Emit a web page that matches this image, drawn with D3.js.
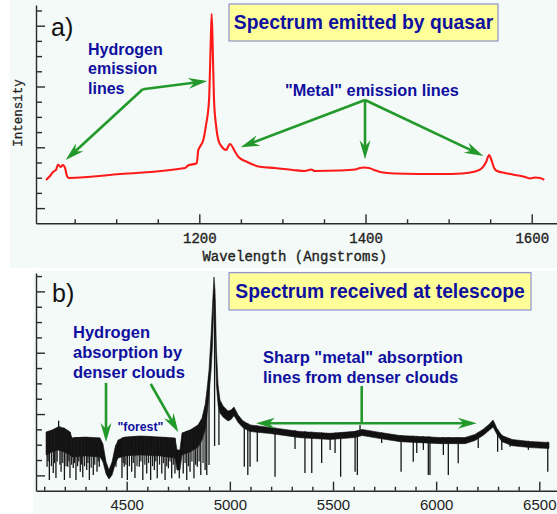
<!DOCTYPE html>
<html>
<head>
<meta charset="utf-8">
<script src="https://cdn.jsdelivr.net/npm/d3@7"></script>
<style>
  html, body { margin: 0; padding: 0; background: #ffffff; }
  svg { display: block; }
</style>
</head>
<body>
<svg id="chart" width="557" height="514"></svg>
<script>
// ---------- Panel a: spectrum emitted by the quasar (rest wavelength, Angstroms) ----------
const emitWave = [1015.5, 1020.3, 1024.0, 1027.6, 1030.0, 1033.0, 1036.0, 1038.4, 1040.8, 1043.2,
  1104.6, 1182.8, 1186.4, 1196.9, 1198.8, 1200.8, 1204.8, 1208.1, 1211.7, 1213.5,
  1214.9, 1216.2, 1217.7, 1220.1, 1222.9, 1227.0, 1232.1, 1236.9, 1243.0, 1246.9,
  1257.0, 1273.0, 1291.0, 1312.7, 1327.2, 1334.4, 1339.2, 1369.3, 1387.4, 1393.4,
  1398.2, 1404.2, 1410.2, 1417.5, 1435.5, 1489.7, 1516.1, 1531.8, 1540.3, 1545.1,
  1548.7, 1551.1, 1554.7, 1558.3, 1567.9, 1580.0, 1592.0, 1598.0, 1604.0, 1610.0, 1615.0];
const emitFlux = [1.85, 2.11, 2.38, 2.51, 2.87, 2.70, 2.84, 2.64, 2.11, 1.98,
  2.24, 2.64, 2.80, 2.95, 3.82, 4.04, 4.48, 5.47, 7.11, 10.40,
  12.77, 10.40, 7.11, 5.47, 4.48, 4.04, 3.82, 4.22, 3.71, 3.38,
  3.05, 2.72, 2.64, 2.51, 2.44, 2.54, 2.44, 2.47, 2.54, 2.64,
  2.67, 2.64, 2.51, 2.38, 2.28, 2.24, 2.28, 2.41, 2.64, 3.03,
  3.49, 3.23, 2.64, 2.44, 2.31, 2.18, 2.05, 1.95, 2.01, 1.98, 1.85];
const emitTicks = [1200, 1400, 1600];

// ---------- Panel b: spectrum received at the telescope (observed wavelength) ----------
// noise band of the observed spectrum: upper and lower edges
const obsWave = [4109, 4138, 4167, 4196, 4225, 4235, 4298, 4371, 4385, 4400,
  4414, 4429, 4443, 4458, 4492, 4565, 4661, 4734, 4744, 4758,
  4768, 4807, 4846, 4865, 4880, 4889, 4899, 4909, 4916, 4923,
  4928, 4935, 4943, 4952, 4967, 4991, 5006, 5020, 5040, 5064,
  5098, 5195, 5340, 5486, 5607, 5641, 5728, 5825, 6019, 6140,
  6188, 6227, 6256, 6276, 6295, 6319, 6368, 6455, 6547];
const obsTop = [2.83, 2.96, 3.16, 3.09, 2.83, 2.44, 2.50, 2.44, 2.05, 0.87,
  0.35, 0.87, 1.79, 2.31, 2.50, 2.57, 2.50, 2.44, 1.66, 1.66,
  2.76, 2.96, 3.29, 3.74, 4.59, 5.57, 6.87, 9.16, 11.11, 12.94,
  12.09, 8.18, 5.89, 4.92, 4.53, 4.20, 4.27, 4.46, 3.94, 3.55,
  3.29, 3.13, 2.86, 2.74, 2.87, 3.00, 2.80, 2.60, 2.47, 2.47,
  2.67, 3.00, 3.32, 3.61, 3.06, 2.60, 2.34, 2.21, 2.15];
const obsBottom = [1.33, 1.53, 1.66, 1.53, 1.33, 1.20, 1.27, 1.20, 0.87, 0.09,
  -0.24, 0.02, 0.68, 1.13, 1.27, 1.33, 1.27, 1.13, 0.35, 0.35,
  1.33, 1.53, 1.85, 2.31, 2.96, 3.94, 5.24, 6.87, 8.51, 11.44,
  9.48, 5.89, 4.59, 4.07, 3.81, 3.55, 3.65, 3.90, 3.45, 3.10,
  2.86, 2.73, 2.46, 2.34, 2.47, 2.60, 2.40, 2.20, 2.07, 2.07,
  2.27, 2.60, 2.92, 3.15, 2.66, 2.20, 1.94, 1.81, 1.75];
// individual narrow features (absorption lines and spikes): wavelength, top, bottom
const absWave = [4114, 4125, 4144, 4157, 4170, 4182, 4198, 4214, 4225, 4241,
  4254, 4275, 4287, 4306, 4319, 4338, 4356, 4367, 4448, 4477,
  4488, 4503, 4524, 4540, 4561, 4578, 4597, 4616, 4634, 4648,
  4670, 4686, 4702, 4718, 4734, 4755, 4774, 4791, 4807, 4826,
  4842, 4859, 4880, 4888, 4899, 4926, 4947, 5070, 5087, 5098,
  5133, 5219, 5316, 5364, 5397, 5445, 5486, 5510, 5537, 5607,
  5618, 5631, 5736, 5830, 5889, 5906, 5938, 5962, 5970, 6035,
  6059, 6107, 6204, 6298, 6318, 6358, 6447, 6541];
const absTop = [2.83, 2.90, 2.96, 3.00, 3.57, 3.10, 3.09, 2.95, 2.83, 2.44,
  2.50, 2.50, 2.50, 2.50, 2.45, 2.45, 2.45, 2.45, 2.00, 2.45,
  2.50, 2.50, 2.50, 2.55, 2.57, 2.57, 2.55, 2.55, 2.50, 2.50,
  2.50, 2.50, 2.45, 2.45, 2.44, 1.66, 2.80, 2.90, 2.96, 3.10,
  3.25, 3.50, 4.50, 5.00, 6.50, 11.50, 5.00, 3.50, 3.40, 3.30,
  3.25, 3.10, 2.95, 2.88, 2.85, 2.80, 2.76, 2.78, 2.80, 2.89,
  2.92, 3.29, 2.80, 2.63, 2.58, 2.57, 2.55, 2.54, 2.54, 2.50,
  2.50, 2.50, 2.80, 3.00, 2.65, 2.40, 2.25, 2.20];
const absBottom = [0.57, -0.30, 0.15, -0.17, 2.00, 0.24, -0.30, 0.57, -0.17, 0.48,
  -0.30, 0.24, -0.13, 0.35, -0.30, 0.02, 0.24, 0.57, 0.57, -0.17,
  0.57, -0.30, 0.24, -0.17, 0.57, -0.30, 0.13, -0.30, 0.35, -0.19,
  0.13, -0.30, 0.46, -0.19, 0.13, -0.19, 0.13, -0.30, 0.24, -0.19,
  0.57, 0.02, 0.35, 0.02, 0.68, 1.92, 1.98, 0.57, 0.02, 0.57,
  0.89, -0.09, 1.72, 0.15, 0.15, 0.81, 1.66, 1.46, -0.09, 0.24,
  0.02, 2.60, 2.11, 0.24, 0.89, 1.46, 1.66, 0.02, 0.02, 1.33,
  0.02, 0.79, 1.79, 1.54, 1.66, 1.87, 1.66, 0.24];
// shallower lines of the Lyman-alpha forest
const forestWave = [4119, 4135, 4150, 4163, 4176, 4190, 4206, 4220, 4233, 4247,
  4262, 4268, 4281, 4296, 4312, 4328, 4345, 4362, 4483, 4496,
  4513, 4532, 4550, 4569, 4588, 4606, 4625, 4641, 4659, 4678,
  4694, 4710, 4726, 4783, 4799, 4816, 4834, 4851, 4870];
const forestTop = [2.85, 2.95, 3.00, 3.10, 3.20, 3.05, 3.00, 2.85, 2.50, 2.50,
  2.50, 2.50, 2.50, 2.50, 2.48, 2.46, 2.45, 2.45, 2.48, 2.50,
  2.52, 2.55, 2.57, 2.57, 2.56, 2.55, 2.52, 2.50, 2.50, 2.50,
  2.48, 2.46, 2.44, 2.85, 2.92, 3.00, 3.15, 3.35, 3.90];
const forestBottom = [0.90, 0.60, 0.80, 0.90, 0.70, 0.80, 0.60, 0.90, 0.70, 0.80,
  0.60, 0.90, 0.70, 0.60, 0.80, 0.50, 0.70, 0.90, 0.80, 0.70,
  0.60, 0.80, 0.60, 0.90, 0.70, 0.80, 0.60, 0.90, 0.70, 0.80,
  0.60, 0.90, 0.70, 0.80, 0.60, 0.90, 0.70, 0.90, 0.80];
const obsTicks = [4500, 5000, 5500, 6000, 6500];

// ---------- layout ----------
const svg = d3.select("#chart");
const BG = "#f4faf7";
const AXIS = "#2a2a2a";
const BLUE = "#0f0fa0";
const GREEN = "#22992a";

svg.append("rect").attr("x", 10).attr("y", 0).attr("width", 547).attr("height", 268).attr("fill", BG);
svg.append("rect").attr("x", 33).attr("y", 271).attr("width", 524).attr("height", 243).attr("fill", BG);

const xa = d3.scaleLinear().domain([1003.5, 1630.4]).range([36, 557]);
const ya = d3.scaleLinear().domain([-1, 13.36]).range([223.3, 5]);
const xb = d3.scaleLinear().domain([4060.3, 6585.8]).range([36, 557]);
const yb = d3.scaleLinear().domain([-1, 13.2]).range([490.7, 273]);

function styleAxis(g) {
  g.selectAll("path, line").attr("stroke", AXIS).attr("stroke-width", 1.4);
}

// ticks on the left axis point inwards; every fourth one is longer
function drawYAxis(g, y, x0) {
  g.append("g").attr("transform", `translate(${x0},0)`)
    .call(d3.axisLeft(y).tickValues(d3.range(0, 14).filter(v => v % 4)).tickSize(-6).tickSizeOuter(0).tickFormat(""))
    .call(styleAxis);
  g.append("g").attr("transform", `translate(${x0},0)`)
    .call(d3.axisLeft(y).tickValues([0, 4, 8, 12]).tickSize(-9).tickSizeOuter(0).tickFormat(""))
    .call(s => s.select(".domain").remove())
    .call(styleAxis);
}

const MONO = "'Liberation Mono', 'Courier New', monospace";
const SANS = "'Liberation Sans', Arial, sans-serif";

// ---------- panel a ----------
const gA = svg.append("g");
drawYAxis(gA, ya, 36);
gA.append("g").attr("transform", "translate(0,223.3)")
  .call(d3.axisBottom(xa).tickValues(d3.range(1050, 1601, 50).filter(v => v % 200)).tickSize(-4).tickSizeOuter(0).tickFormat(""))
  .call(styleAxis);
gA.append("g").attr("transform", "translate(0,223.3)")
  .call(d3.axisBottom(xa).tickValues(emitTicks).tickSize(-9).tickPadding(10).tickFormat(d3.format("d")))
  .call(s => s.select(".domain").remove())
  .call(styleAxis)
  .call(s => s.selectAll("text").attr("font-family", MONO).attr("font-size", 14).attr("fill", "#222")
    .attr("stroke", "#222").attr("stroke-width", 0.35));

gA.append("text").attr("x", 294.8).attr("y", 261).attr("text-anchor", "middle")
  .attr("font-family", MONO).attr("font-size", 14).attr("fill", "#222")
  .attr("stroke", "#222").attr("stroke-width", 0.35)
  .text("Wavelength (Angstroms)");
gA.append("text").attr("transform", "translate(22,113) rotate(-90)").attr("text-anchor", "middle")
  .attr("font-family", MONO).attr("font-size", 12.5).attr("fill", "#222")
  .attr("stroke", "#222").attr("stroke-width", 0.3)
  .text("Intensity");

const lineA = d3.line()
  .x((d, i) => xa(emitWave[i]))
  .y((d, i) => ya(emitFlux[i]))
  .curve(d3.curveMonotoneX);
gA.append("path").datum(emitWave).attr("d", lineA)
  .attr("fill", "none").attr("stroke", "#ff1a1a").attr("stroke-width", 2.1).attr("stroke-linejoin", "round");

// ---------- panel b ----------
const gB = svg.append("g");
drawYAxis(gB, yb, 36);
gB.append("g").attr("transform", "translate(0,490.7)")
  .call(d3.axisBottom(xb).tickValues(d3.range(4100, 6501, 100).filter(v => v % 500)).tickSize(-4).tickSizeOuter(0).tickFormat(""))
  .call(styleAxis);
gB.append("g").attr("transform", "translate(0,490.7)")
  .call(d3.axisBottom(xb).tickValues(obsTicks).tickSize(-9).tickPadding(8.6).tickFormat(d3.format("d")))
  .call(s => s.select(".domain").remove())
  .call(styleAxis)
  .call(s => s.selectAll("text").attr("font-family", SANS).attr("font-size", 15).attr("fill", "#222"));

const areaB = d3.area()
  .x((d, i) => xb(obsWave[i]))
  .y0((d, i) => yb(obsBottom[i]))
  .y1((d, i) => yb(obsTop[i]));
gB.append("path").datum(obsWave).attr("d", areaB)
  .attr("fill", "#111").attr("stroke", "#111").attr("stroke-width", 0.6).attr("stroke-linejoin", "round");
gB.selectAll("line.forest").data(forestWave).join("line").attr("class", "forest")
  .attr("x1", d => xb(d)).attr("x2", d => xb(d))
  .attr("y1", (d, i) => yb(forestTop[i])).attr("y2", (d, i) => yb(forestBottom[i]))
  .attr("stroke", "#1a1a1a").attr("stroke-width", 1.2);
gB.selectAll("line.feature").data(absWave).join("line").attr("class", "feature")
  .attr("x1", d => xb(d)).attr("x2", d => xb(d))
  .attr("y1", (d, i) => yb(absTop[i])).attr("y2", (d, i) => yb(absBottom[i]))
  .attr("stroke", "#151515").attr("stroke-width", 1.3);

// ---------- annotations ----------
function arrowHead(g, x1, y1, x2, y2) {
  const a = Math.atan2(y2 - y1, x2 - x1);
  const L = 19, Wd = 5.5, N = 13;
  const pt = (dx, dy) => [x2 + dx * Math.cos(a) - dy * Math.sin(a), y2 + dx * Math.sin(a) + dy * Math.cos(a)];
  g.append("path").attr("d", "M" + [pt(0, 0), pt(-L, -Wd), pt(-N, 0), pt(-L, Wd)].join("L") + "Z")
    .attr("fill", GREEN);
}
function arrow(g, x1, y1, x2, y2, both) {
  const a = Math.atan2(y2 - y1, x2 - x1);
  const sx = both ? x1 + 12 * Math.cos(a) : x1, sy = both ? y1 + 12 * Math.sin(a) : y1;
  g.append("line").attr("x1", sx).attr("y1", sy)
    .attr("x2", x2 - 12 * Math.cos(a)).attr("y2", y2 - 12 * Math.sin(a))
    .attr("stroke", GREEN).attr("stroke-width", 2.6);
  arrowHead(g, x1, y1, x2, y2);
  if (both) arrowHead(g, x2, y2, x1, y1);
}

const arrowsA = [
  [1131.9, 7.82, 1039.2, 3.16],
  [1131.9, 7.82, 1209.6, 8.36],
  [1399.4, 7.11, 1249.8, 4.00],
  [1399.4, 7.11, 1399.4, 3.21],
  [1399.4, 7.11, 1541.8, 3.43]
];
arrowsA.forEach(d => arrow(gA, xa(d[0]), ya(d[1]), xa(d[2]), ya(d[3])));

const arrowsB = [
  [4399.7, 6.03, 4399.7, 2.18],
  [4616.3, 5.96, 4750.1, 2.81]
];
arrowsB.forEach(d => arrow(gB, xb(d[0]), yb(d[1]), xb(d[2]), yb(d[3])));
// span of the metal absorption lines, with a stem up to its label
gB.append("line").attr("x1", xb(5639.1)).attr("x2", xb(5639.1)).attr("y1", yb(5.83)).attr("y2", yb(3.40))
  .attr("stroke", GREEN).attr("stroke-width", 2.6);
arrow(gB, xb(5126.8), yb(3.40), xb(6196.6), yb(3.40), true);

function label(g, x, y, lines, size, step) {
  const t = g.append("text").attr("font-family", SANS)
    .attr("font-weight", "bold").attr("font-size", size).attr("fill", BLUE);
  lines.forEach((s, i) => t.append("tspan").attr("x", x).attr("y", y + i * step).text(s));
}
label(gA, 88, 54.5, ["Hydrogen", "emission", "lines"], 16, 19.5);
label(gA, 285, 96, ["\"Metal\" emission lines"], 16.3, 0);
label(gB, 73, 337.5, ["Hydrogen", "absorption by", "denser clouds"], 16.5, 20);
label(gB, 117.5, 431, ["\"forest\""], 12.3, 0);
label(gB, 263, 362.5, ["Sharp \"metal\" absorption", "lines from denser clouds"], 16.5, 20);

function titleBox(g, x, y, w, h, txt, base) {
  g.append("rect").attr("x", x).attr("y", y).attr("width", w).attr("height", h)
    .attr("fill", "#ffff99").attr("stroke", "#7a7ad0").attr("stroke-width", 1);
  g.append("text").attr("x", x + w / 2).attr("y", base).attr("text-anchor", "middle")
    .attr("font-family", SANS).attr("font-weight", "bold")
    .attr("font-size", 19.3).attr("fill", BLUE).text(txt);
}
titleBox(gA, 229, 4, 269, 37, "Spectrum emitted by quasar", 29);
titleBox(gB, 229, 272.7, 302, 37.3, "Spectrum received at telescope", 298);

// panel letters
svg.append("text").attr("x", 51).attr("y", 36).attr("font-family", SANS)
  .attr("font-size", 25).attr("fill", "#111").text("a)");
svg.append("text").attr("x", 52).attr("y", 302).attr("font-family", SANS)
  .attr("font-size", 25).attr("fill", "#111").text("b)");
</script>
</body>
</html>
